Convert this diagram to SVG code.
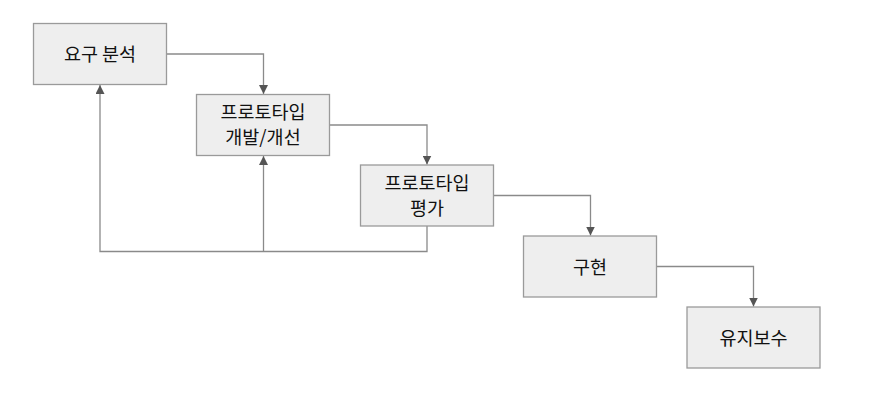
<svg xmlns="http://www.w3.org/2000/svg" width="877" height="408" viewBox="0 0 877 408">
<style>
.box{fill:#eeeeee;stroke:#9a9a9a;stroke-width:1.3}
.lbl{font-family:"Noto Sans CJK KR","Noto Sans",sans-serif;font-size:18.5px;fill:#111;text-anchor:middle;dominant-baseline:central}
.ln{fill:none;stroke:#8a8a8a;stroke-width:1.3}
</style>
<defs>
<marker id="ah" viewBox="0 0 10 10" refX="10" refY="5" markerWidth="9" markerHeight="9" markerUnits="userSpaceOnUse" orient="auto">
<path d="M0,0 L10,5 L0,10 z" fill="#555"/>
</marker>
</defs>
<rect width="877" height="408" fill="#fff"/>
<g id="connectors">
<path class="ln" d="M166.5,54 H263.5 V94" marker-end="url(#ah)"/>
<path class="ln" d="M329.5,125 H427 V164.5" marker-end="url(#ah)"/>
<path class="ln" d="M493,195.5 H590.5 V235.5" marker-end="url(#ah)"/>
<path class="ln" d="M656.5,266.5 H753.5 V306.5" marker-end="url(#ah)"/>
<path class="ln" d="M427,226 V251.5 H100 V85" marker-end="url(#ah)"/>
<path class="ln" d="M263.5,251.5 V156" marker-end="url(#ah)"/>
</g>
<g id="n1">
<rect class="box" x="33.5" y="23.5" width="133" height="61"/>
<text class="lbl" x="100" y="53">요구 분석</text>
</g>
<g id="n2">
<rect class="box" x="196.5" y="94.5" width="133" height="61"/>
<text class="lbl" x="263" y="111">프로토타입</text>
<text class="lbl" x="263" y="136">개발/개선</text>
</g>
<g id="n3">
<rect class="box" x="360.5" y="165" width="133" height="61"/>
<text class="lbl" x="427" y="182">프로토타입</text>
<text class="lbl" x="427" y="207">평가</text>
</g>
<g id="n4">
<rect class="box" x="523.5" y="236" width="133" height="61"/>
<text class="lbl" x="590" y="266">구현</text>
</g>
<g id="n5">
<rect class="box" x="687" y="307" width="133" height="61"/>
<text class="lbl" x="753.5" y="337">유지보수</text>
</g>
</svg>
